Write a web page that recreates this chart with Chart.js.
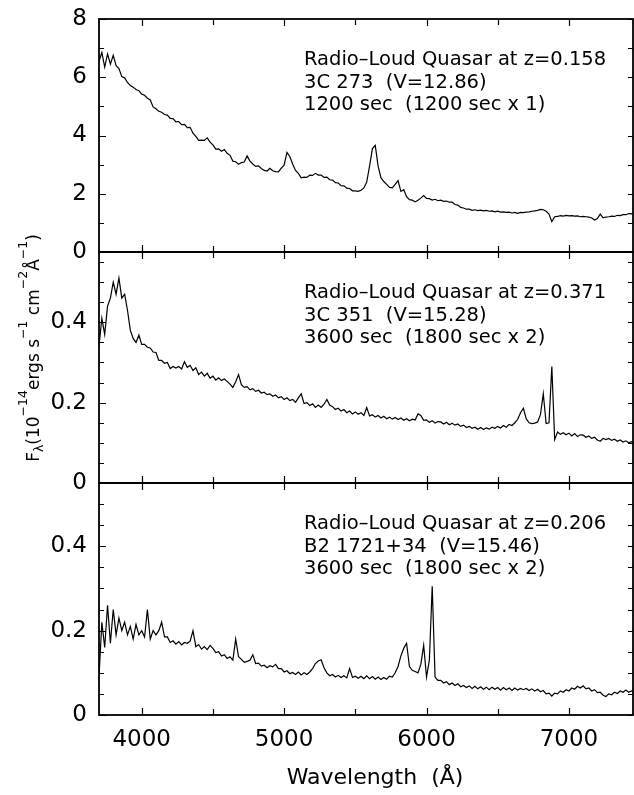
<!DOCTYPE html>
<html>
<head>
<meta charset="utf-8">
<script src="https://cdn.jsdelivr.net/npm/chart.js@4.4.1/dist/chart.umd.min.js"></script>
<style>
  html, body { margin: 0; padding: 0; background: #fff; }
  #wrap { position: relative; width: 634px; height: 795px; }
  #wrap canvas { position: absolute; left: 0; top: 0; }
</style>
</head>
<body>
<div id="wrap">
  <canvas id="panelA" width="634" height="795"></canvas>
  <canvas id="panelB" width="634" height="795"></canvas>
  <canvas id="panelC" width="634" height="795"></canvas>
</div>
<script>
// spectra sampled every 20 A from 3700 A
const waveStart = 3700;
const waveStep = 20;

// 3C 273 (10^-14 ergs/s/cm2/A)
const flux3C273 = [
  6.55, 6.85, 6.35, 6.8, 6.45, 6.75, 6.4, 6.3, 6.02, 5.98,
  5.82, 5.72, 5.66, 5.58, 5.54, 5.42, 5.38, 5.28, 5.22, 4.98,
  4.92, 4.83, 4.8, 4.72, 4.7, 4.59, 4.58, 4.47, 4.48, 4.37,
  4.38, 4.27, 4.28, 4.08, 3.97, 3.83, 3.84, 3.83, 3.92, 3.77,
  3.68, 3.53, 3.54, 3.46, 3.52, 3.39, 3.32, 3.12, 3.1, 3.01,
  3.07, 3.09, 3.3, 3.12, 3.02, 2.94, 2.96, 2.87, 2.8, 2.78,
  2.87, 2.79, 2.76, 2.75, 2.88, 2.98, 3.42, 3.28, 3.02, 2.8,
  2.7, 2.55, 2.57, 2.56, 2.64, 2.63, 2.7, 2.64, 2.64, 2.56,
  2.57, 2.48, 2.47, 2.38, 2.37, 2.28, 2.27, 2.19, 2.18, 2.1,
  2.1, 2.08, 2.12, 2.2, 2.4, 2.95, 3.55, 3.66, 2.95, 2.55,
  2.42, 2.32, 2.22, 2.2, 2.32, 2.45, 2.08, 2.14, 1.9, 1.8,
  1.78, 1.72, 1.78, 1.85, 1.94, 1.84, 1.83, 1.78, 1.81, 1.76,
  1.78, 1.74, 1.75, 1.71, 1.71, 1.63, 1.61, 1.53, 1.51, 1.47,
  1.47, 1.43, 1.45, 1.42, 1.44, 1.41, 1.43, 1.4, 1.41, 1.38,
  1.4, 1.37, 1.38, 1.36, 1.37, 1.34, 1.36, 1.33, 1.36, 1.35,
  1.37, 1.38, 1.4, 1.41, 1.43, 1.46, 1.45, 1.4, 1.3, 1.04,
  1.21, 1.22, 1.25, 1.23, 1.26, 1.24, 1.25, 1.23, 1.24, 1.21,
  1.22, 1.21, 1.2, 1.17, 1.1, 1.15, 1.3, 1.17, 1.2, 1.21,
  1.23, 1.22, 1.26, 1.25, 1.28, 1.28, 1.32, 1.31, 1.35, 1.34
];

// 3C 351
const flux3C351 = [
  0.34, 0.41, 0.37, 0.44, 0.46, 0.50, 0.47, 0.51, 0.46, 0.47,
  0.43, 0.38, 0.36, 0.35, 0.368, 0.345, 0.345, 0.338, 0.336, 0.326,
  0.325, 0.305, 0.305, 0.298, 0.3, 0.285, 0.29, 0.286, 0.29, 0.284,
  0.302, 0.288, 0.293, 0.28, 0.287, 0.27, 0.276, 0.266, 0.273, 0.261,
  0.266, 0.256, 0.262, 0.255, 0.259, 0.253, 0.246, 0.238, 0.252, 0.27,
  0.245, 0.238, 0.24, 0.232, 0.235, 0.228, 0.231, 0.224, 0.226, 0.22,
  0.222, 0.216, 0.219, 0.212, 0.215, 0.208, 0.212, 0.205, 0.208, 0.201,
  0.212, 0.222, 0.198, 0.2, 0.193, 0.197, 0.188, 0.194, 0.188, 0.196,
  0.208, 0.194, 0.19, 0.183, 0.186, 0.179, 0.183, 0.175, 0.179, 0.172,
  0.177, 0.171, 0.175, 0.168, 0.188, 0.167, 0.17, 0.164, 0.168, 0.162,
  0.166, 0.16, 0.164, 0.159, 0.163, 0.158, 0.162, 0.156, 0.16, 0.155,
  0.159, 0.157, 0.172, 0.168, 0.156, 0.157, 0.151, 0.155, 0.149, 0.153,
  0.152, 0.147, 0.151, 0.145, 0.149, 0.144, 0.147, 0.141, 0.144, 0.138,
  0.141, 0.136, 0.139, 0.134, 0.138, 0.133, 0.137, 0.134, 0.139, 0.136,
  0.141, 0.137, 0.143, 0.139, 0.146, 0.143, 0.15, 0.158, 0.175, 0.186,
  0.16, 0.15, 0.148, 0.149, 0.152, 0.17, 0.222, 0.148, 0.15, 0.29,
  0.108, 0.127, 0.121, 0.125, 0.12, 0.124, 0.117, 0.123, 0.116, 0.12,
  0.119, 0.114, 0.117, 0.111, 0.114, 0.107, 0.104, 0.111, 0.108, 0.111,
  0.106, 0.109, 0.104, 0.107, 0.102, 0.105, 0.1, 0.103, 0.099, 0.101
];

// B2 1721+34
const fluxB2 = [
  0.09, 0.22, 0.16, 0.26, 0.17, 0.25, 0.19, 0.23, 0.2, 0.22,
  0.19, 0.21, 0.18, 0.215, 0.19, 0.2, 0.185, 0.25, 0.18, 0.2,
  0.19, 0.2, 0.22, 0.185, 0.185, 0.172, 0.176, 0.168, 0.174, 0.166,
  0.172, 0.17, 0.175, 0.2, 0.162, 0.167, 0.156, 0.162, 0.155, 0.165,
  0.158, 0.148, 0.15, 0.14, 0.143, 0.134, 0.138, 0.13, 0.18, 0.138,
  0.132, 0.125, 0.127, 0.13, 0.143, 0.122, 0.123, 0.116, 0.118, 0.112,
  0.117, 0.114, 0.12, 0.11, 0.11, 0.102, 0.105, 0.098, 0.101, 0.096,
  0.102, 0.095, 0.1, 0.096, 0.102, 0.11, 0.122, 0.128, 0.131, 0.112,
  0.1, 0.093, 0.096, 0.09, 0.094, 0.089, 0.093, 0.088, 0.11, 0.089,
  0.092, 0.087, 0.092, 0.086, 0.093, 0.086, 0.091, 0.085, 0.09, 0.084,
  0.089, 0.085, 0.092, 0.09, 0.1, 0.115, 0.14, 0.158, 0.17, 0.115,
  0.106, 0.103, 0.1, 0.12, 0.165, 0.09, 0.13, 0.305, 0.09, 0.082,
  0.082, 0.076, 0.079, 0.072, 0.076, 0.07, 0.074, 0.067, 0.07, 0.065,
  0.069, 0.063, 0.068, 0.062, 0.067, 0.061, 0.066, 0.06, 0.066, 0.061,
  0.065, 0.059, 0.065, 0.06, 0.064, 0.058, 0.064, 0.059, 0.063, 0.06,
  0.063, 0.058, 0.062, 0.057, 0.061, 0.055, 0.058, 0.05, 0.052, 0.045,
  0.052, 0.05, 0.057, 0.054, 0.06, 0.057, 0.064, 0.061, 0.068, 0.064,
  0.069, 0.062, 0.064, 0.057, 0.06, 0.053, 0.054, 0.047, 0.044, 0.05,
  0.048, 0.054, 0.051, 0.057, 0.054, 0.059, 0.054, 0.057, 0.053, 0.056
];

// axes
const xMajor = [4000, 5000, 6000, 7000];
const xMinor = [4500, 5500, 6500];
const yMajorA = [0, 2, 4, 6, 8];
const yMinorA = [1, 3, 5, 7];
const yMajorB = [0, 0.2, 0.4];
const yMinorB = [0.05, 0.1, 0.15, 0.25, 0.3, 0.35, 0.45, 0.5, 0.55];
const yMajorC = [0, 0.2, 0.4];
const yMinorC = [0.05, 0.1, 0.15, 0.25, 0.3, 0.35, 0.45, 0.5];

const notesA = ["Radio\u2013Loud Quasar at z=0.158", "3C 273  (V=12.86)", "1200 sec  (1200 sec x 1)"];
const notesB = ["Radio\u2013Loud Quasar at z=0.371", "3C 351  (V=15.28)", "3600 sec  (1800 sec x 2)"];
const notesC = ["Radio\u2013Loud Quasar at z=0.206", "B2 1721+34  (V=15.46)", "3600 sec  (1800 sec x 2)"];

const FONT = "DejaVu Sans";

// box around each panel, inward ticks on all sides, and the text block
const framePlugin = {
  id: "frame",
  afterDatasetsDraw(chart, args, opts) {
    const { ctx, chartArea: a } = chart;
    const x = chart.scales.x, y = chart.scales.y;
    ctx.save();
    ctx.strokeStyle = "#000";
    ctx.lineWidth = 1.2;
    ctx.beginPath();
    const xt = (vals, len) => vals.forEach(v => {
      const px = Math.round(x.getPixelForValue(v)) + 0.5;
      ctx.moveTo(px, a.top); ctx.lineTo(px, a.top + len);
      ctx.moveTo(px, a.bottom); ctx.lineTo(px, a.bottom - len);
    });
    const yt = (vals, len) => vals.forEach(v => {
      const py = Math.round(y.getPixelForValue(v)) + 0.5;
      ctx.moveTo(a.left, py); ctx.lineTo(a.left + len, py);
      ctx.moveTo(a.right, py); ctx.lineTo(a.right - 5, py);
    });
    xt(xMajor, 7); xt(xMinor, 6);
    yt(opts.yMajor, 7); yt(opts.yMinor, 5);
    ctx.stroke();
    ctx.lineWidth = 1.8;
    ctx.strokeRect(a.left, a.top, a.right - a.left, a.bottom - a.top);

    ctx.fillStyle = "#000";
    ctx.font = "19.5px '" + FONT + "'";
    ctx.textBaseline = "alphabetic";
    opts.notes.forEach((t, i) => ctx.fillText(t, 304, a.top + 46 + i * 22.7));
    ctx.restore();
  }
};

// axis titles (shared by the three panels)
const titlePlugin = {
  id: "titles",
  afterDraw(chart) {
    const ctx = chart.ctx;
    ctx.save();
    ctx.fillStyle = "#000";
    ctx.textBaseline = "alphabetic";
    ctx.font = "22px '" + FONT + "'";
    ctx.textAlign = "center";
    ctx.fillText("Wavelength  (\u00C5)", 375, 784);

    const parts = [
      ["F", 0], ["\u03BB", -1], ["(10", 0], ["\u221214", 1], ["ergs s", 0], ["\u22121", 1],
      [" cm", 0], ["\u22122", 1], ["\u00C5", 0], ["\u22121", 1], [")", 0]
    ];
    const fontOf = k => (k === 0 ? "17px '" : "12.5px '") + FONT + "'";
    let total = 0;
    parts.forEach(([t, k]) => { ctx.font = fontOf(k); total += ctx.measureText(t).width; });
    ctx.translate(38.5, 348);
    ctx.rotate(-Math.PI / 2);
    ctx.textAlign = "left";
    let pos = -total / 2;
    parts.forEach(([t, k]) => {
      ctx.font = fontOf(k);
      const dy = k === 1 ? -12 : (k === -1 ? 4 : 0);
      ctx.fillText(t, pos, dy);
      pos += ctx.measureText(t).width;
    });
    ctx.restore();
  }
};

function buildPanel(id, flux, cfg) {
  const points = flux.map((f, i) => ({ x: waveStart + i * waveStep, y: f }));
  const tickFont = { family: FONT, size: 23 };
  return new Chart(document.getElementById(id), {
    type: "line",
    data: {
      datasets: [{
        data: points,
        borderColor: "#000",
        borderWidth: 1.2,
        pointRadius: 0,
        tension: 0
      }]
    },
    options: {
      responsive: false,
      animation: false,
      devicePixelRatio: 1,
      layout: { padding: { left: 0, right: 1, top: cfg.top, bottom: cfg.bottom } },
      plugins: {
        legend: { display: false },
        tooltip: { enabled: false },
        frame: { yMajor: cfg.yMajor, yMinor: cfg.yMinor, notes: cfg.notes }
      },
      scales: {
        x: {
          type: "linear",
          min: 3700,
          max: 7450,
          display: cfg.showX,
          grid: { display: false },
          border: { display: false },
          afterBuildTicks: s => { s.ticks = xMajor.map(v => ({ value: v })); },
          afterFit: cfg.showX ? (s => { s.height = 80; }) : undefined,
          ticks: { color: "#000", font: tickFont, padding: 3, maxRotation: 0, autoSkip: false, callback: v => String(v) }
        },
        y: {
          min: 0,
          max: cfg.yMax,
          grid: { display: false },
          border: { display: false },
          afterBuildTicks: s => { s.ticks = cfg.yMajor.map(v => ({ value: v })); },
          afterFit: s => { s.width = 99; },
          ticks: { color: "#000", font: tickFont, padding: 4, callback: v => String(v) }
        }
      }
    },
    plugins: cfg.showX ? [framePlugin, titlePlugin] : [framePlugin]
  });
}

buildPanel("panelA", flux3C273, { top: 19, bottom: 543, yMax: 8, yMajor: yMajorA, yMinor: yMinorA, notes: notesA, showX: false });
buildPanel("panelB", flux3C351, { top: 252, bottom: 312, yMax: 0.575, yMajor: yMajorB, yMinor: yMinorB, notes: notesB, showX: false });
buildPanel("panelC", fluxB2, { top: 483, bottom: 0, yMax: 0.55, yMajor: yMajorC, yMinor: yMinorC, notes: notesC, showX: true });
</script>
</body>
</html>
